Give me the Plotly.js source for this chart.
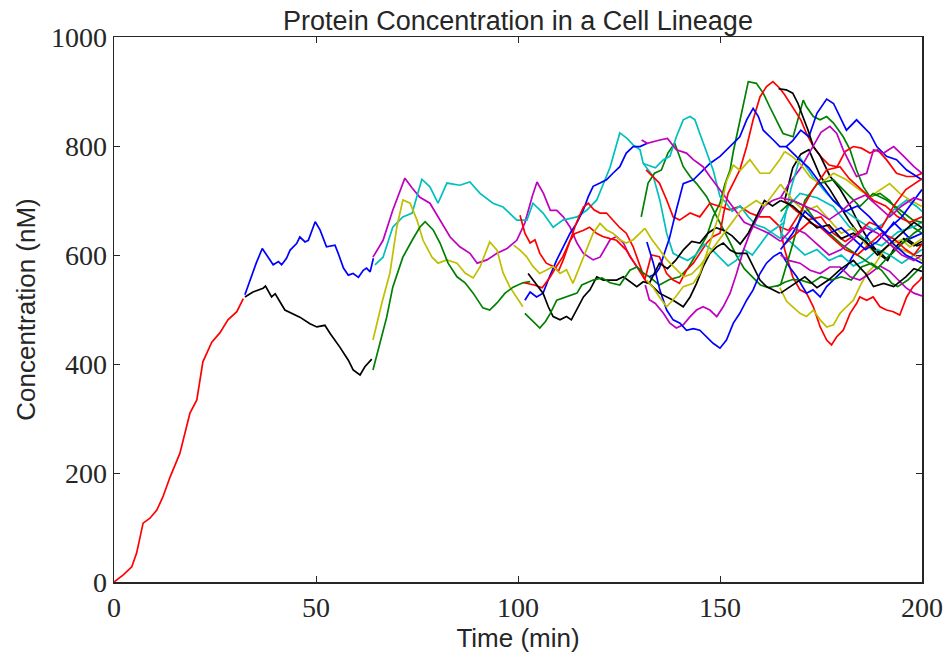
<!DOCTYPE html>
<html>
<head>
<meta charset="utf-8">
<script src="https://cdn.plot.ly/plotly-3.0.1.min.js"></script>
<style>html,body{margin:0;padding:0;background:#fff;}#chart{width:947px;height:655px;}</style>
</head>
<body>
<div id="chart"></div>
<script>
// ---- Colours (MATLAB-style) ----
const RED = '#FF0000', BLUE = '#0000FF', BLACK = '#000000', MAG = '#BF00BF', CYAN = '#00BFBF', YEL = '#BFBF00', GRN = '#008000';

// ---- Axis ticks ----
const xTicks = [0, 50, 100, 150, 200];
const yTicks = [0, 200, 400, 600, 800, 1000];

// ---- Generation 1 ----
const r1_t = [0, 2.3, 4.4, 5.6, 7.2, 8.9, 10.6, 12.1, 13.9, 16.3, 18.8, 20.5, 22, 24.2, 26.2, 28.2, 30.4, 32];
const r1_v = [0, 13, 28, 53, 108, 117, 132, 156, 193, 236, 310, 334, 404, 440, 457, 481, 496, 520];

// ---- Generation 2 ----
const b2_t = [32.4, 35.2, 36.7, 37.8, 39.4, 40.7, 41.5, 42.7, 43.6, 45.2, 46.0, 47.3, 48.1, 49.8, 51.0, 52.6, 54.7, 55.5, 56.8, 58.0, 59.2, 60.5, 61.7, 62.5, 63.4, 64.2];
const b2_v = [527, 585, 612, 600, 582, 588, 582, 594, 609, 621, 633, 624, 627, 661, 646, 615, 618, 603, 576, 563, 566, 559, 572, 576, 569, 594];
const k2_t = [32.4, 34.4, 36.9, 37.5, 39.0, 39.9, 42.3, 44.0, 46.0, 48.5, 50.2, 52.2, 53.5, 55.9, 58.0, 59.2, 60.9, 62.1, 63.8];
const k2_v = [523, 532, 539, 543, 523, 529, 499, 493, 486, 474, 468, 471, 456, 431, 407, 389, 380, 395, 409];

// ---- Generation 3 ----
const m3_t = [64.1, 66.6, 69, 72, 73.8, 75.7, 78.2, 80.2, 83.2, 85.6, 88.1, 89.9, 92.3, 94.8, 97.3, 99.7, 101.7, 103.5, 104.7, 106.3, 108, 109.6, 111.2, 112.9, 114.6, 116.2, 118.6, 120.3, 122.8, 124.4, 126.1, 127.7, 129.4, 131];
const m3_v = [596, 627, 682, 741, 723, 706, 695, 670, 633, 615, 603, 585, 591, 603, 612, 627, 659, 707, 734, 713, 682, 682, 670, 651, 622, 603, 591, 596, 628, 634, 622, 597, 579, 566];
const c3_t = [64.6, 66.6, 69, 71.5, 73.8, 76.2, 78.2, 80.2, 82.4, 85.6, 88.1, 90.6, 93.8, 96.3, 99.7, 102.2, 103.7, 106.2, 108.7, 111.1, 114.6, 117, 119.5, 122.8, 125.2, 127, 128.5, 130.2, 131, 133.5, 135.1, 136.8, 138.4, 140];
const c3_v = [582, 596, 651, 670, 677, 739, 725, 695, 732, 728, 734, 713, 695, 688, 664, 664, 695, 677, 651, 664, 670, 682, 701, 761, 824, 814, 802, 793, 768, 744, 701, 640, 603, 597];
const y3_t = [64.1, 66.3, 68.3, 70, 71.5, 73.3, 75, 76.5, 78.7, 80.2, 82.4, 84.9, 86.9, 88.9, 90.6, 93, 94.8, 96.3, 98, 99.7, 101.2];
const y3_v = [444, 512, 567, 651, 701, 695, 664, 627, 596, 585, 591, 585, 567, 558, 578, 624, 609, 567, 541, 523, 505];
const g3_t = [64.1, 65.5, 67.5, 69, 71.5, 73.8, 75.7, 77, 79, 80.7, 82.7, 84.9, 86.9, 88.9, 91.3, 93, 94.8, 96.8, 98.8, 101.2, 103];
const g3_v = [389, 430, 486, 541, 596, 627, 651, 661, 646, 622, 585, 560, 549, 530, 503, 499, 512, 530, 541, 549, 551];

// ---- Generation 4 ----
const b4_t = [101.7, 103, 104.6, 106.2, 107.8, 109.6, 111.2, 112.9, 114.5, 116.2, 117.4, 118.6, 120.3, 121.9, 123.5, 125.2, 126.8, 128.5, 130.2, 132];
const b4_v = [517, 532, 523, 530, 560, 591, 615, 640, 658, 683, 707, 726, 732, 738, 750, 762, 787, 799, 799, 805];
const ra4_t = [100.5, 101.7, 103, 104.2, 105.4, 107, 108.7, 110, 111.2, 112.9, 114.5, 116.2, 117.4, 118.8, 120.3, 121.9, 123.5, 125.2, 126.8, 128.5, 130.2, 131.4];
const ra4_v = [673, 640, 622, 628, 603, 585, 579, 570, 591, 628, 660, 688, 695, 683, 677, 677, 664, 650, 640, 615, 580, 555];
const rb4_t = [101.5, 104, 106, 108, 109.5, 111.1, 112.8, 114, 116.1, 117.7, 119.4, 121, 122.8, 124.4, 126.8, 129.3, 130.9, 132];
const rb4_v = [549, 545, 540, 560, 579, 597, 625, 639, 645, 651, 640, 634, 630, 627, 609, 579, 560, 548];
const y4_t = [98.9, 100.5, 102.1, 103.7, 105.4, 107, 108.7, 110.4, 112, 113.6, 115.3, 116.9, 118.6, 120.3, 121.9, 123.5, 125.2, 126.8, 128.5, 130.2, 131.4];
const y4_v = [618, 609, 597, 579, 566, 573, 579, 566, 573, 548, 579, 609, 640, 658, 646, 640, 628, 622, 628, 640, 649];
const k4_t = [102.5, 103.7, 106.2, 107.5, 108.7, 110.4, 112, 113.2, 114.5, 116.2, 117.8, 119.5, 121.1, 122.8, 124.4, 126.1, 127.7, 129.4, 131, 132.5];
const k4_v = [566, 554, 530, 505, 487, 481, 487, 481, 499, 523, 536, 560, 554, 554, 554, 560, 551, 542, 551, 548];
const g4_t = [101.7, 103.5, 105.4, 106.8, 108, 109.6, 112, 114.6, 115.8, 118.6, 120.8, 122.8, 125.2, 127.7, 129.4, 131, 132.5];
const g4_v = [493, 480, 466, 478, 493, 517, 523, 530, 545, 554, 558, 549, 545, 572, 578, 567, 560];

// ---- Generation 5 ----
const gp5_t = [130.5, 132.2, 133.8, 135.5, 137.1, 138.8, 140.9, 142.6, 144.2, 145.4, 146.7, 147.9, 150, 152, 154, 156, 158, 160, 162, 165];
const gp5_v = [670, 732, 750, 756, 787, 805, 762, 744, 731, 719, 707, 689, 660, 630, 600, 575, 560, 545, 540, 545];
const gq5_t = [132.5, 135, 137.5, 140, 142, 144, 146.7, 148.3, 150, 151.2, 152.5, 153.3, 154.1, 155, 155.8, 157, 159, 160.7, 162.3, 164, 165.6, 168.1, 170.6, 171.4, 173.1, 174.8, 176.4, 178.1, 180.5, 182.2, 183.8, 185.5, 187.1, 189.6, 192, 194, 196, 198, 200];
const gq5_v = [560, 545, 555, 560, 575, 600, 634, 670, 695, 730, 756, 790, 817, 850, 878, 918, 915, 897, 872, 848, 823, 817, 884, 872, 854, 848, 854, 842, 817, 793, 756, 725, 707, 713, 700, 680, 665, 650, 640];
const rp5_t = [131.4, 133, 135, 136.8, 138.4, 140, 141.7, 143.4, 145, 146.7, 148.3, 150, 151, 152, 153.5, 154.9, 156.6, 158.2, 159.9, 161.5, 163.1, 164.8, 166, 168, 170, 171.4, 173.1, 175, 177, 179, 181, 183, 185, 187.1, 189, 191.2, 193.7, 196.2, 198.2, 200];
const rp5_v = [555, 600, 597, 566, 554, 548, 572, 585, 603, 622, 634, 640, 680, 713, 735, 756, 799, 848, 890, 909, 918, 906, 894, 870, 848, 823, 799, 780, 765, 762, 790, 799, 796, 787, 793, 775, 750, 744, 744, 750];
const ru5_t = [131.7, 133.4, 135, 136.8, 138.4, 140, 142.6, 145, 147.5, 150, 152.4, 154.9, 157.4, 159.9, 162.3, 164.8, 167];
const ru5_v = [756, 744, 732, 701, 670, 664, 677, 670, 695, 689, 683, 689, 677, 670, 670, 652, 645];
const bp5_t = [132.5, 134, 135, 137.5, 139.2, 140.9, 143.4, 145, 147.5, 150, 152.4, 154.9, 156.6, 158.2, 159.5, 160.7, 163.2, 164.8, 166.4, 168, 170, 172, 174, 176.4, 178.1, 179.7, 181.3, 183.8, 185.5, 187.1, 188.8, 191.2, 193.7, 196.2, 198.7, 200];
const bp5_v = [560, 565, 576, 631, 683, 731, 738, 750, 768, 781, 799, 817, 848, 869, 854, 829, 811, 799, 799, 810, 829, 817, 860, 886, 878, 854, 829, 848, 836, 823, 799, 781, 775, 756, 744, 738];
const cp5_t = [131, 134, 136, 137.6, 139.2, 140.9, 142.6, 143.8, 145, 146.7, 148.3, 150, 151.6, 153, 155, 157, 159, 161, 163, 165];
const cp5_v = [768, 760, 775, 781, 817, 848, 854, 848, 823, 787, 756, 707, 695, 680, 690, 670, 655, 650, 640, 630];
const cd5_t = [140, 142, 144, 146, 148, 150, 152, 154, 156, 158, 160, 162, 164, 166];
const cd5_v = [597, 590, 600, 620, 610, 595, 580, 590, 610, 600, 620, 640, 650, 660];
const mu5_t = [130.6, 132, 135.1, 137, 139.2, 141.7, 143.4, 145.8, 147.5, 150, 153, 156, 159, 162, 165];
const mu5_v = [811, 805, 811, 814, 793, 787, 775, 762, 744, 720, 690, 660, 650, 640, 625];
const md5_t = [131.5, 132.5, 134, 136, 137.6, 139.2, 140.9, 142.6, 144.2, 145.8, 147.5, 149.2, 150.8, 152.5, 154.1, 155.8, 157.4, 159, 161, 163, 165];
const md5_v = [545, 518, 511, 493, 475, 466, 472, 487, 499, 505, 499, 487, 505, 530, 566, 609, 640, 665, 690, 700, 705];
const bd5_t = [131.9, 133.5, 135.1, 136.8, 138.4, 140.1, 141.7, 143.4, 145, 146.7, 148.3, 150, 151.6, 153.3, 154.9, 156.6, 158.2, 159.9, 161.5, 163.2, 165];
const bd5_v = [624, 585, 536, 499, 481, 475, 462, 465, 462, 450, 438, 429, 444, 475, 493, 517, 536, 566, 585, 597, 605];
const kl5_t = [132.5, 135, 138.4, 140.9, 142.6, 144.2, 145.8, 147.5, 149.2, 150.8, 152.5, 154.1, 156.6, 158.2, 159.9, 161.5, 163.2, 164.8];
const kl5_v = [548, 530, 517, 505, 523, 548, 578, 603, 615, 622, 609, 603, 603, 578, 554, 542, 536, 530];
const ku5_t = [132.5, 134, 135, 137, 139, 141, 143, 145, 147, 149, 151, 153, 155, 157, 159, 161, 163, 165];
const ku5_v = [548, 570, 585, 575, 590, 610, 625, 622, 640, 650, 645, 635, 620, 640, 670, 700, 690, 700];
const ya5_t = [131.8, 133.5, 135, 136.8, 139, 140.9, 143.4, 145, 146.7, 148.3, 150, 151.6, 153.3, 155, 157.4, 159.9, 162.3, 164.8, 166];
const ya5_v = [554, 540, 523, 505, 523, 542, 548, 566, 603, 640, 680, 735, 765, 755, 775, 750, 750, 775, 790];
const yb5_t = [131.4, 133, 135, 137, 139, 141, 143, 145, 147, 149, 151, 153, 155, 157, 159, 161, 163, 165];
const yb5_v = [649, 630, 610, 590, 575, 560, 565, 580, 600, 620, 640, 660, 680, 690, 700, 690, 710, 730];

// ---- Generation 6 ----
const kh6_t = [164.5, 166.4, 168, 169.3, 170.5, 171.8, 173.1, 174.8, 177.2, 179.7, 182.2, 184.6, 187.1, 189.6, 191.5, 193, 195.5, 198, 200];
const kh6_v = [905, 903, 897, 878, 854, 829, 799, 782, 745, 721, 690, 654, 624, 600, 590, 611, 630, 617, 625];
const kb6_t = [166, 168, 170, 172, 174.8, 177.2, 179.7, 182.2, 184.6, 187.1, 189.6, 191.2, 193.7, 196.2, 198.7, 200];
const kb6_v = [700, 760, 785, 793, 745, 720, 690, 660, 636, 617, 605, 593, 611, 630, 617, 620];
const mh6_t = [165, 167, 170, 173, 175, 177.2, 178.9, 180.5, 182.2, 183.8, 186.3, 188, 190.5, 193, 195.5, 198, 200];
const mh6_v = [705, 730, 760, 800, 825, 836, 823, 793, 768, 744, 750, 793, 787, 799, 781, 762, 750];
const rd6_t = [164.8, 166, 168, 169.8, 171.4, 173.1, 174.8, 176.4, 177.6, 178.9, 180.5, 182.2, 183.8, 184.6, 186.3, 187.9, 189.6, 191.2, 192.9, 194.5, 196.2, 197.8, 199.5, 200];
const rd6_v = [652, 610, 560, 536, 530, 505, 468, 444, 435, 450, 462, 493, 511, 523, 517, 523, 505, 499, 496, 490, 523, 542, 554, 560];
const yd6_t = [164.8, 166.5, 168, 169.8, 171.4, 173.1, 174.8, 176.4, 178.1, 179.7, 181.3, 183, 184.6, 186.3, 187.9, 189.6, 191.2, 192.9, 195, 197, 200];
const yd6_v = [540, 515, 505, 493, 487, 499, 481, 468, 472, 493, 505, 517, 542, 566, 578, 597, 615, 622, 628, 615, 630];
const bl6_t = [165, 167, 169, 171.4, 173, 174.8, 176.4, 178.1, 179.7, 181.3, 183, 185, 187, 189, 191, 193, 195, 197, 200];
const bl6_v = [605, 580, 560, 530, 536, 523, 542, 554, 566, 578, 600, 620, 640, 650, 640, 660, 645, 630, 640];
const gl6_t = [164, 166, 168, 170, 172.5, 175, 177.5, 180, 182.5, 185, 187.5, 190, 192.5, 194, 196.5, 198.5, 200];
const gl6_v = [542, 550, 555, 554, 548, 560, 554, 560, 554, 578, 585, 572, 548, 542, 554, 570, 580];
const ml6_t = [165, 167, 169.8, 172.3, 174.8, 177.2, 179.7, 182.2, 184.6, 187.1, 189.6, 192, 194, 196, 198, 200];
const ml6_v = [600, 590, 585, 572, 566, 578, 578, 560, 554, 566, 580, 570, 555, 540, 530, 525];
const ca6_t = [165, 167.5, 169.8, 173, 176.4, 179.7, 183, 185.5, 188, 190.5, 193, 196.2, 198.7, 200];
const ca6_v = [630, 720, 779, 743, 713, 689, 670, 658, 646, 658, 683, 701, 689, 680];
const cb6_t = [165, 167, 169.8, 174, 178, 182, 186, 190, 194, 198, 200];
const cb6_v = [660, 690, 713, 705, 689, 652, 628, 617, 642, 652, 660];
const cc6_t = [165, 168, 171, 174, 177, 180, 183, 186, 189, 192, 195, 198, 200];
const cc6_v = [640, 620, 600, 610, 590, 600, 580, 590, 610, 600, 585, 600, 610];
const yu6_t = [166, 168, 169.8, 172.3, 174.8, 178.1, 181.3, 184.6, 187.1, 189.6, 192, 194.5, 197, 200];
const yu6_v = [790, 780, 768, 743, 731, 750, 738, 719, 707, 719, 731, 713, 701, 689];
const ym6_t = [165, 168, 171, 174, 177, 180, 183, 186, 189, 192, 195, 198, 200];
const ym6_v = [730, 700, 680, 690, 665, 640, 650, 620, 600, 620, 610, 600, 590];
const gm6_t = [165, 168, 171, 174, 178.1, 181.4, 184.6, 187.9, 191.2, 194.5, 197.8, 200];
const gm6_v = [545, 620, 700, 730, 738, 713, 689, 713, 701, 683, 664, 660];
const gn6_t = [165, 168, 171, 174, 177, 180, 183, 186, 189, 192, 195, 198, 200];
const gn6_v = [680, 700, 690, 660, 640, 620, 605, 590, 575, 600, 620, 640, 650];
const rm6_t = [167, 170, 173, 176.4, 179.7, 182, 185, 188, 191, 194, 197, 200];
const rm6_v = [645, 680, 720, 756, 762, 740, 720, 700, 690, 670, 660, 670];
const rn6_t = [166, 169, 172, 175, 178, 181, 184, 187, 190, 193, 196, 198, 200];
const rn6_v = [620, 640, 660, 650, 630, 610, 600, 620, 640, 630, 610, 600, 620];
const ro6_t = [166, 169, 172, 175, 178, 181, 184, 187, 190, 193, 196, 200];
const ro6_v = [700, 680, 665, 670, 640, 625, 640, 660, 650, 690, 720, 740];
const kl6_t = [165, 168, 171, 174, 177, 180, 183, 186, 188, 190.5, 193, 196, 198, 200];
const kl6_v = [530, 545, 560, 540, 555, 575, 590, 566, 542, 548, 542, 560, 575, 570];
const km6_t = [165, 168, 171, 174, 177, 180, 183, 186, 189, 192, 195, 198, 200];
const km6_v = [700, 690, 670, 650, 655, 630, 640, 625, 600, 620, 640, 660, 650];
const bm6_t = [165, 168, 171, 174, 177, 180, 183, 186, 189, 192, 195, 198, 200];
const bm6_v = [610, 640, 680, 660, 640, 650, 630, 610, 625, 650, 670, 700, 720];
const bn6_t = [166.4, 169, 172, 175, 178, 181, 184, 187, 190, 193, 196, 200];
const bn6_v = [799, 780, 760, 730, 700, 680, 690, 670, 645, 620, 600, 585];
const mm6_t = [165, 168, 171, 174, 177, 180, 183, 186, 189, 192, 195, 198, 200];
const mm6_v = [625, 650, 640, 620, 600, 610, 630, 650, 640, 620, 600, 590, 600];
const mn6_t = [165, 168, 171, 174, 177, 180, 183, 186, 189, 192, 195, 198, 200];
const mn6_v = [705, 700, 690, 680, 665, 680, 700, 710, 690, 670, 690, 705, 700];

// ---- Series list (built from the arrays above) ----
const series = [
  [r1_t, r1_v, RED],
  [b2_t, b2_v, BLUE], [k2_t, k2_v, BLACK],
  [m3_t, m3_v, MAG], [c3_t, c3_v, CYAN], [y3_t, y3_v, YEL], [g3_t, g3_v, GRN],
  [b4_t, b4_v, BLUE], [ra4_t, ra4_v, RED], [rb4_t, rb4_v, RED], [y4_t, y4_v, YEL], [k4_t, k4_v, BLACK], [g4_t, g4_v, GRN],
  [gp5_t, gp5_v, GRN], [gq5_t, gq5_v, GRN], [rp5_t, rp5_v, RED], [ru5_t, ru5_v, RED], [bp5_t, bp5_v, BLUE],
  [cp5_t, cp5_v, CYAN], [cd5_t, cd5_v, CYAN], [mu5_t, mu5_v, MAG], [md5_t, md5_v, MAG], [bd5_t, bd5_v, BLUE],
  [kl5_t, kl5_v, BLACK], [ku5_t, ku5_v, BLACK], [ya5_t, ya5_v, YEL], [yb5_t, yb5_v, YEL],
  [kh6_t, kh6_v, BLACK], [kb6_t, kb6_v, BLACK], [mh6_t, mh6_v, MAG], [rd6_t, rd6_v, RED], [yd6_t, yd6_v, YEL],
  [bl6_t, bl6_v, BLUE], [gl6_t, gl6_v, GRN], [ml6_t, ml6_v, MAG], [ca6_t, ca6_v, CYAN], [cb6_t, cb6_v, CYAN],
  [cc6_t, cc6_v, CYAN], [yu6_t, yu6_v, YEL], [ym6_t, ym6_v, YEL], [gm6_t, gm6_v, GRN], [gn6_t, gn6_v, GRN],
  [rm6_t, rm6_v, RED], [rn6_t, rn6_v, RED], [ro6_t, ro6_v, RED], [kl6_t, kl6_v, BLACK], [km6_t, km6_v, BLACK],
  [bm6_t, bm6_v, BLUE], [bn6_t, bn6_v, BLUE], [mm6_t, mm6_v, MAG], [mn6_t, mn6_v, MAG]
];

const traces = series.map(s => ({
  x: s[0], y: s[1], type: 'scatter', mode: 'lines',
  line: {color: s[2], width: 1.7}, hoverinfo: 'skip', showlegend: false
}));

const AX = '#262626';
const sans = 'Liberation Sans, Arial, sans-serif';
const serif = 'Liberation Serif, Times New Roman, serif';

const axisBase = {
  ticks: 'inside', ticklen: 6, tickwidth: 1, tickcolor: AX,
  showline: true, mirror: 'ticks', linecolor: AX, linewidth: 1.5,
  showgrid: false, zeroline: false,
  tickfont: {family: serif, size: 28, color: AX}
};

const layout = {
  width: 947, height: 655,
  margin: {l: 114, r: 25, t: 37, b: 73},
  paper_bgcolor: '#ffffff', plot_bgcolor: '#ffffff',
  showlegend: false, hovermode: false,
  title: {text: 'Protein Concentration in a Cell Lineage', font: {family: sans, size: 27, color: AX},
          x: 0.5, xref: 'paper', xanchor: 'center', y: 0.968, yref: 'container', yanchor: 'middle'},
  xaxis: Object.assign({}, axisBase, {range: [0, 200], tickvals: xTicks, ticktext: xTicks.map(String),
          title: {text: 'Time (min)', font: {family: sans, size: 26, color: AX}, standoff: 4}}),
  yaxis: Object.assign({}, axisBase, {range: [0, 1000], tickvals: yTicks, ticktext: yTicks.map(String),
          title: {text: 'Concentration (nM)', font: {family: sans, size: 26, color: AX}, standoff: 8}})
};

Plotly.newPlot('chart', traces, layout, {staticPlot: true, displayModeBar: false});
</script>
</body>
</html>
